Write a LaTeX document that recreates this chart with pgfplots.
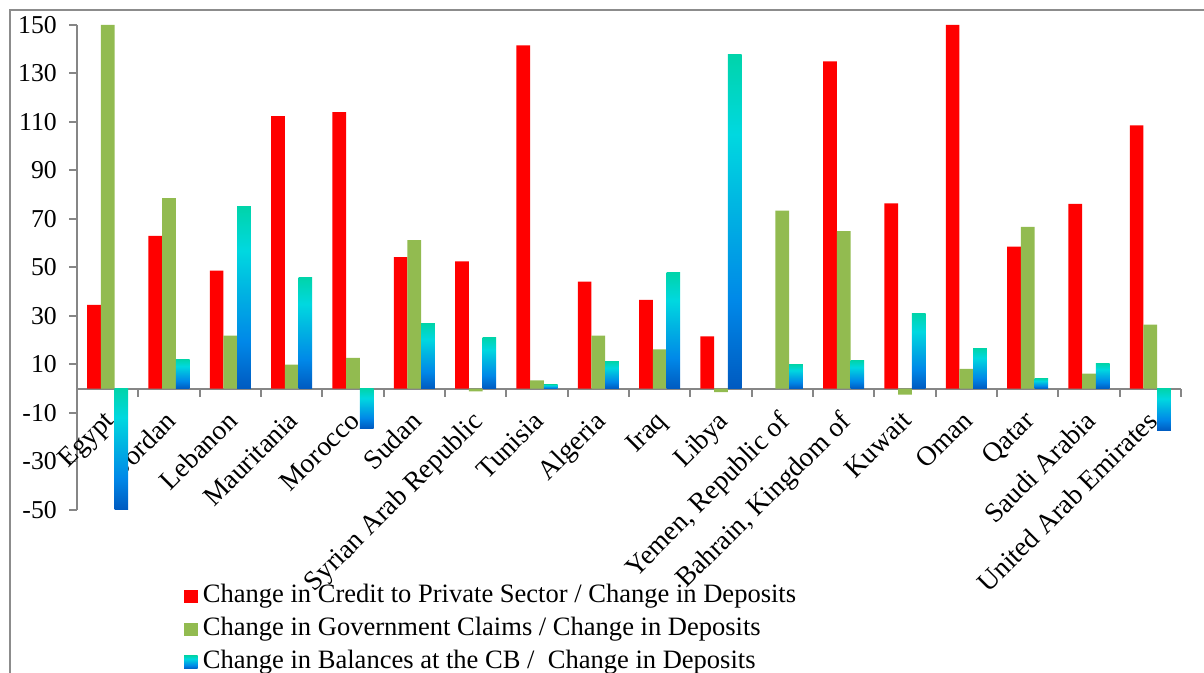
\documentclass[border=0pt]{standalone}
\usepackage{pgfplots}
\usepackage{pgfplotstable}
\pgfplotsset{compat=1.18}
\usepackage{fontspec}
\setmainfont{Liberation Serif}
\definecolor{cred}{HTML}{FF0000}
\definecolor{cgreen}{HTML}{92BB50}
\definecolor{axgray}{HTML}{868686}
\definecolor{framegray}{HTML}{8C8C8C}
\definecolor{s1}{HTML}{005AC0}
\definecolor{s2}{HTML}{0088E8}
\definecolor{s3}{HTML}{00B4E2}
\definecolor{s4}{HTML}{00D8E0}
\definecolor{s5}{HTML}{00D4AA}
\pgfdeclareverticalshading{cbshade}{100bp}{color(0bp)=(s1); color(25bp)=(s1); color(38bp)=(s2); color(52bp)=(s3); color(63bp)=(s4); color(75bp)=(s5); color(100bp)=(s5)}

\pgfplotstableread{
x red green
0 34.5 149.9
1 63.0 78.5
2 48.6 21.9
3 112.3 9.9
4 114.0 12.7
5 54.2 61.2
6 52.5 -1.1
7 141.5 3.4
8 44.1 21.9
9 36.6 16.2
10 21.5 -1.4
11 nan 73.4
12 134.9 64.9
13 76.4 -2.5
14 149.9 8.2
15 58.5 66.7
16 76.2 6.2
17 108.5 26.4
}\datatable

\begin{document}
\begin{tikzpicture}
\useasboundingbox (0pt,0pt) rectangle (903pt,-504.75pt);
\draw[framegray, line width=1.5pt] (7.5pt,-600pt) -- (7.5pt,-7.5pt) -- (1000pt,-7.5pt);
\begin{axis}[
  at={(57.75pt,-382.5pt)}, anchor=south west,
  scale only axis, width=828pt, height=364pt,
  xmin=-0.5, xmax=17.5, ymin=-50, ymax=150,
  axis x line*=middle, axis y line*=left,
  axis line style={axgray, line width=1.4pt, -},
  every tick/.style={axgray, line width=1.4pt},
  tick align=outside,
  major tick length=6pt, minor tick length=6pt,
  ybar=0pt, bar width=0.2234,
  ytick={-50,-30,-10,10,30,50,70,90,110,130,150},
  yticklabels={-50,-30,-10,10,30,50,70,90,110,130,150},
  yticklabel style={font=\fontsize{19.3}{22}\selectfont, anchor=east, inner sep=0pt, xshift=-9pt},
  xtick={0,...,17},
  major x tick style={draw=none},
  minor xtick={-0.5,0.5,...,17.5},
  xticklabels={Egypt,Jordan,Lebanon,Mauritania,Morocco,Sudan,Syrian Arab Republic,Tunisia,Algeria,Iraq,Libya,{Yemen, Republic of},{Bahrain, Kingdom of},Kuwait,Oman,Qatar,Saudi Arabia,United Arab Emirates},
  xticklabel style={font=\fontsize{20.6}{24}\selectfont, xshift=-3.75pt, yshift=-9.4pt, rotate=45, anchor=north east, inner sep=0pt},
  clip=true,
  legend style={at={(0.0969,-0.1525)}, anchor=north west, draw=none, fill=none, inner sep=0pt, row sep=6.75pt, column sep=4pt, font=\fontsize{19.9}{22}\selectfont, nodes={inner sep=0pt, text height=14pt, text depth=4pt}},
  legend cell align=left,
  sq legend/.style={legend image code/.code={\path[##1,draw=none] (0pt,-5pt) rectangle (10pt,5pt);}},
  cb/.style={shade, shading=cbshade, draw=none, bar shift=0.2234, sq legend},
]
\addplot[fill=cred, draw=none, bar shift=-0.2234, sq legend] table[x=x, y=red] {\datatable};
\addplot[fill=cgreen, draw=none, bar shift=0, sq legend] table[x=x, y=green] {\datatable};
\addplot[cb] coordinates {(0,-49.9)};
\addplot[cb, forget plot] coordinates {(1,12.1)};
\addplot[cb, forget plot] coordinates {(2,74.9)};
\addplot[cb, forget plot] coordinates {(3,45.8)};
\addplot[cb, forget plot] coordinates {(4,-16.3)};
\addplot[cb, forget plot] coordinates {(5,26.8)};
\addplot[cb, forget plot] coordinates {(6,21.1)};
\addplot[cb, forget plot] coordinates {(7,1.8)};
\addplot[cb, forget plot] coordinates {(8,11.2)};
\addplot[cb, forget plot] coordinates {(9,47.8)};
\addplot[cb, forget plot] coordinates {(10,137.8)};
\addplot[cb, forget plot] coordinates {(11,10.0)};
\addplot[cb, forget plot] coordinates {(12,11.6)};
\addplot[cb, forget plot] coordinates {(13,31.0)};
\addplot[cb, forget plot] coordinates {(14,16.6)};
\addplot[cb, forget plot] coordinates {(15,4.2)};
\addplot[cb, forget plot] coordinates {(16,10.4)};
\addplot[cb, forget plot] coordinates {(17,-17.3)};
\legend{Change in Credit to Private Sector / Change in Deposits, Change in Government Claims / Change in Deposits, Change in Balances at the CB /\ \ Change in Deposits}
\end{axis}
\end{tikzpicture}
\end{document}
